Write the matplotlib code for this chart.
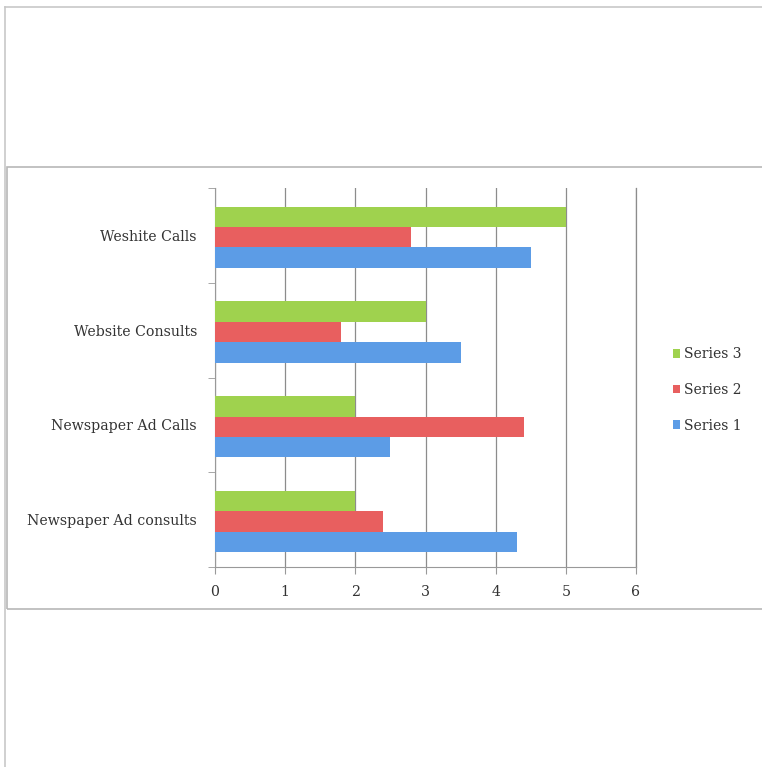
import matplotlib.pyplot as plt
from matplotlib.lines import Line2D
from matplotlib.patches import Rectangle
import numpy as np

categories = ['Newspaper Ad consults', 'Newspaper Ad Calls', 'Website Consults', 'Weshite Calls']
series_names = ['Series 1', 'Series 2', 'Series 3']
series1 = [4.3, 2.5, 3.5, 4.5]
series2 = [2.4, 4.4, 1.8, 2.8]
series3 = [2.0, 2.0, 3.0, 5.0]
colors = ['#5c9ce6', '#e85f5f', '#9fd24e']
x_ticks = [0, 1, 2, 3, 4, 5, 6]

plt.rcParams['font.family'] = ['DejaVu Serif']

fig = plt.figure(figsize=(7.62, 7.67), dpi=100)
W, H = 762, 767

def fx(px):
    return px / W

def fy(py):
    return 1 - py / H

# page frame lines
fig.add_artist(Line2D([fx(5), 1], [fy(7), fy(7)], color='#c8c8c8', lw=1.2))
fig.add_artist(Line2D([fx(5), fx(5)], [fy(7), 0], color='#c8c8c8', lw=1.2))
# chart box
fig.add_artist(Rectangle((fx(7), fy(609)), 1.1, fy(167) - fy(609), fill=False,
                         edgecolor='#b8b8b8', lw=1.2))

ax = fig.add_axes([fx(215), fy(567), fx(636) - fx(215), fy(188) - fy(567)])

y = np.arange(len(categories))
h = 0.215
data = [series1, series2, series3]
for i, (vals, name, c) in enumerate(zip(data, series_names, colors)):
    ax.barh(y + (i - 1) * h - 0.02, vals, height=h, color=c, label=name, zorder=3)

ax.set_xlim(0, 6)
ax.set_ylim(-0.5, len(categories) - 0.5)
ax.set_xticks(x_ticks)
ax.set_xticklabels([str(t) for t in x_ticks])
ax.set_yticks(y)
ax.set_yticklabels(categories)
ax.set_yticks(np.arange(-0.5, len(categories), 1), minor=True)
ax.tick_params(axis='y', which='major', length=0, pad=13, labelsize=10.2, labelcolor='#333333')
ax.tick_params(axis='y', which='minor', length=5, color='#999999')
ax.tick_params(axis='x', length=5, color='#999999', labelsize=10.2, labelcolor='#333333', pad=8)
ax.grid(axis='x', color='#8c8c8c', lw=0.9, zorder=0)
ax.axvline(6, color='#8c8c8c', lw=0.9, zorder=0, clip_on=False)

for s in ['top', 'right']:
    ax.spines[s].set_visible(False)
for s in ['left', 'bottom']:
    ax.spines[s].set_color('#999999')

handles, labels = ax.get_legend_handles_labels()
ax.legend(handles[::-1], labels[::-1], loc='center left', bbox_to_anchor=(fx(660), fy(390)),
          bbox_transform=fig.transFigure, frameon=False, handlelength=0.55, handleheight=0.55,
          handletextpad=0.3, labelspacing=1.55, fontsize=10, labelcolor='#333333')

fig.savefig('out.png', dpi=100, facecolor='white')
